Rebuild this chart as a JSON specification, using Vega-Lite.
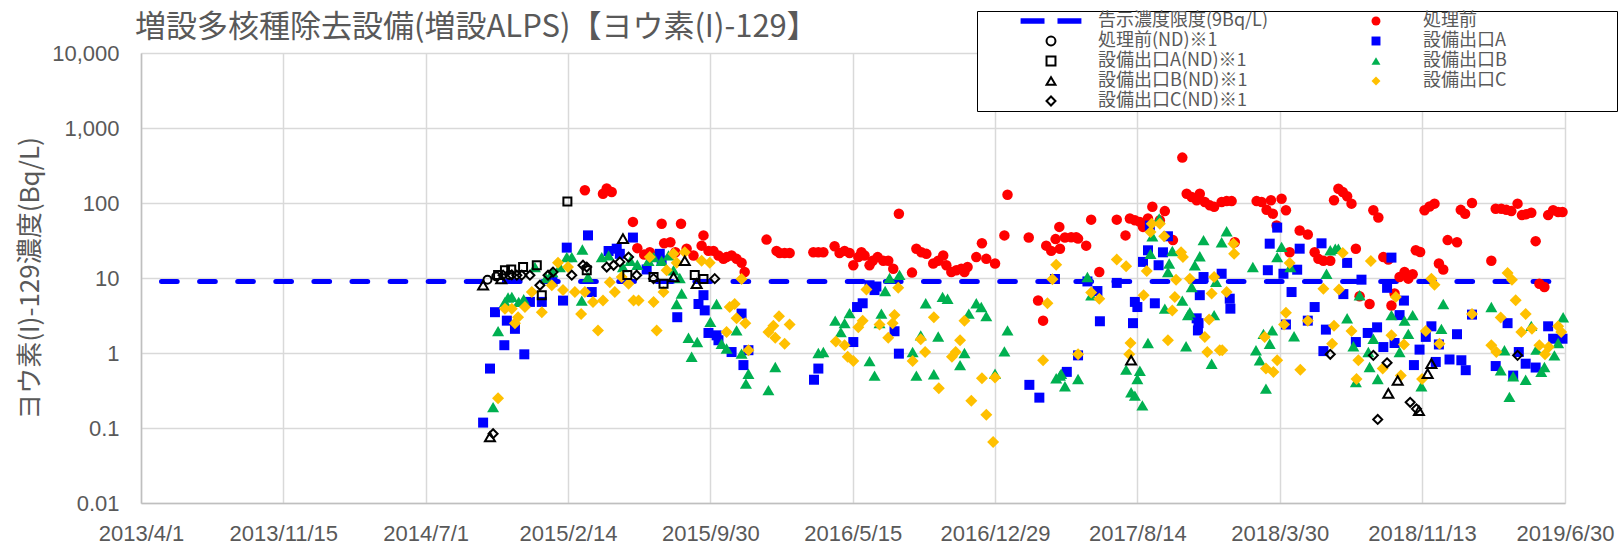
{
  "$schema": "https://vega.github.io/schema/vega-lite/v6.json",
  "width": 1424,
  "height": 450,
  "autosize": {"type": "none"},
  "padding": {"left": 141, "top": 53, "right": 58, "bottom": 42},
  "background": "white",
  "title": {"text": "増設多核種除去設備(増設ALPS)【ヨウ素(I)-129】", "anchor": "start", "frame": "group", "font": "Noto Sans CJK JP", "fontSize": 31, "fontWeight": "normal", "color": "#595959", "dx": -6, "offset": -33},
  "config": {
    "view": {"stroke": null},
    "axis": {"labelFont": "Liberation Sans", "labelFontSize": 22, "labelColor": "#595959", "ticks": false, "gridColor": "#D9D9D9", "gridWidth": 1.5, "domainColor": "#BFBFBF", "domainWidth": 1.5, "titleFont": "Noto Sans CJK JP", "titleFontWeight": "normal", "titleColor": "#595959", "labelOverlap": false, "labelFlush": false},
    "legend": {"orient": "none", "legendX": 836, "legendY": -42, "columns": 2, "gridAlign": "all", "padding": 1, "rowPadding": 2, "columnPadding": 35, "symbolOffset": 64, "labelOffset": 38, "labelFont": "Noto Sans CJK JP", "labelFontSize": 18, "labelColor": "#595959", "labelLimit": 500, "symbolSize": 80, "symbolStrokeWidth": 2, "strokeColor": "#000000", "fillColor": "#FFFFFF", "titleOrient": "right", "titlePadding": 109, "titleFontSize": 11, "titleColor": "#FFFFFF"}
  },
  "datasets": {
    "limit": [
      {"date": "2013-04-01", "value": 9, "series": "告示濃度限度(9Bq/L)"},
      {"date": "2019-06-30", "value": 9, "series": "告示濃度限度(9Bq/L)"}
    ],
    "obs": [
      {"date":"2015-03-13","value":148,"series":"処理前"},
      {"date":"2015-04-11","value":133,"series":"処理前"},
      {"date":"2015-04-17","value":156,"series":"処理前"},
      {"date":"2015-04-25","value":140,"series":"処理前"},
      {"date":"2015-05-29","value":56,"series":"処理前"},
      {"date":"2015-06-05","value":25,"series":"処理前"},
      {"date":"2015-06-16","value":20.5,"series":"処理前"},
      {"date":"2015-06-25","value":22,"series":"処理前"},
      {"date":"2015-07-14","value":53,"series":"処理前"},
      {"date":"2015-07-18","value":29,"series":"処理前"},
      {"date":"2015-07-28","value":30,"series":"処理前"},
      {"date":"2015-08-05","value":22,"series":"処理前"},
      {"date":"2015-08-14","value":53,"series":"処理前"},
      {"date":"2015-08-23","value":24.6,"series":"処理前"},
      {"date":"2015-09-03","value":20,"series":"処理前"},
      {"date":"2015-09-16","value":27,"series":"処理前"},
      {"date":"2015-09-19","value":37,"series":"処理前"},
      {"date":"2015-09-27","value":23,"series":"処理前"},
      {"date":"2015-10-05","value":23,"series":"処理前"},
      {"date":"2015-10-13","value":20,"series":"処理前"},
      {"date":"2015-10-21","value":18,"series":"処理前"},
      {"date":"2015-10-26","value":19,"series":"処理前"},
      {"date":"2015-11-03","value":20,"series":"処理前"},
      {"date":"2015-11-11","value":18,"series":"処理前"},
      {"date":"2015-11-19","value":16,"series":"処理前"},
      {"date":"2015-11-24","value":12,"series":"処理前"},
      {"date":"2015-12-29","value":32.5,"series":"処理前"},
      {"date":"2016-01-14","value":23,"series":"処理前"},
      {"date":"2016-01-19","value":21.5,"series":"処理前"},
      {"date":"2016-01-27","value":21.5,"series":"処理前"},
      {"date":"2016-02-04","value":21.5,"series":"処理前"},
      {"date":"2016-03-13","value":22,"series":"処理前"},
      {"date":"2016-03-21","value":22,"series":"処理前"},
      {"date":"2016-03-29","value":22,"series":"処理前"},
      {"date":"2016-04-16","value":26.5,"series":"処理前"},
      {"date":"2016-04-24","value":21.5,"series":"処理前"},
      {"date":"2016-05-02","value":23,"series":"処理前"},
      {"date":"2016-05-10","value":21.5,"series":"処理前"},
      {"date":"2016-05-16","value":14.8,"series":"処理前"},
      {"date":"2016-05-24","value":19,"series":"処理前"},
      {"date":"2016-05-29","value":22,"series":"処理前"},
      {"date":"2016-06-03","value":20,"series":"処理前"},
      {"date":"2016-06-11","value":14.8,"series":"処理前"},
      {"date":"2016-06-16","value":17,"series":"処理前"},
      {"date":"2016-06-24","value":19,"series":"処理前"},
      {"date":"2016-07-03","value":17,"series":"処理前"},
      {"date":"2016-07-11","value":17,"series":"処理前"},
      {"date":"2016-07-19","value":13.3,"series":"処理前"},
      {"date":"2016-07-28","value":72,"series":"処理前"},
      {"date":"2016-08-18","value":11.8,"series":"処理前"},
      {"date":"2016-08-25","value":24.6,"series":"処理前"},
      {"date":"2016-09-02","value":22,"series":"処理前"},
      {"date":"2016-09-10","value":21,"series":"処理前"},
      {"date":"2016-09-21","value":15.6,"series":"処理前"},
      {"date":"2016-09-29","value":17,"series":"処理前"},
      {"date":"2016-10-07","value":20,"series":"処理前"},
      {"date":"2016-10-12","value":14.8,"series":"処理前"},
      {"date":"2016-10-20","value":12,"series":"処理前"},
      {"date":"2016-10-28","value":12.7,"series":"処理前"},
      {"date":"2016-11-05","value":13.3,"series":"処理前"},
      {"date":"2016-11-10","value":12,"series":"処理前"},
      {"date":"2016-11-15","value":14,"series":"処理前"},
      {"date":"2016-11-29","value":19,"series":"処理前"},
      {"date":"2016-12-08","value":29,"series":"処理前"},
      {"date":"2016-12-15","value":18,"series":"処理前"},
      {"date":"2016-12-29","value":15.6,"series":"処理前"},
      {"date":"2017-01-13","value":37,"series":"処理前"},
      {"date":"2017-01-18","value":129,"series":"処理前"},
      {"date":"2017-02-21","value":34.6,"series":"処理前"},
      {"date":"2017-03-08","value":5,"series":"処理前"},
      {"date":"2017-03-16","value":2.7,"series":"処理前"},
      {"date":"2017-03-21","value":27,"series":"処理前"},
      {"date":"2017-03-29","value":23,"series":"処理前"},
      {"date":"2017-04-05","value":33,"series":"処理前"},
      {"date":"2017-04-11","value":48,"series":"処理前"},
      {"date":"2017-04-12","value":24.6,"series":"処理前"},
      {"date":"2017-04-20","value":34.6,"series":"処理前"},
      {"date":"2017-04-30","value":35,"series":"処理前"},
      {"date":"2017-05-08","value":35,"series":"処理前"},
      {"date":"2017-05-11","value":33.5,"series":"処理前"},
      {"date":"2017-05-24","value":27,"series":"処理前"},
      {"date":"2017-06-01","value":60,"series":"処理前"},
      {"date":"2017-06-14","value":12,"series":"処理前"},
      {"date":"2017-07-12","value":60,"series":"処理前"},
      {"date":"2017-07-26","value":37,"series":"処理前"},
      {"date":"2017-08-02","value":62,"series":"処理前"},
      {"date":"2017-08-10","value":59,"series":"処理前"},
      {"date":"2017-08-18","value":56,"series":"処理前"},
      {"date":"2017-08-23","value":48,"series":"処理前"},
      {"date":"2017-08-31","value":62,"series":"処理前"},
      {"date":"2017-09-07","value":89,"series":"処理前"},
      {"date":"2017-09-19","value":59,"series":"処理前"},
      {"date":"2017-09-27","value":78,"series":"処理前"},
      {"date":"2017-10-10","value":32,"series":"処理前"},
      {"date":"2017-10-25","value":403,"series":"処理前"},
      {"date":"2017-11-01","value":133,"series":"処理前"},
      {"date":"2017-11-09","value":120,"series":"処理前"},
      {"date":"2017-11-17","value":109,"series":"処理前"},
      {"date":"2017-11-22","value":133,"series":"処理前"},
      {"date":"2017-11-30","value":103,"series":"処理前"},
      {"date":"2017-12-08","value":93,"series":"処理前"},
      {"date":"2017-12-15","value":89,"series":"処理前"},
      {"date":"2017-12-27","value":103,"series":"処理前"},
      {"date":"2018-01-04","value":106,"series":"処理前"},
      {"date":"2018-01-12","value":106,"series":"処理前"},
      {"date":"2018-01-17","value":30,"series":"処理前"},
      {"date":"2018-02-21","value":106,"series":"処理前"},
      {"date":"2018-03-01","value":103,"series":"処理前"},
      {"date":"2018-03-09","value":81,"series":"処理前"},
      {"date":"2018-03-16","value":109,"series":"処理前"},
      {"date":"2018-03-19","value":72,"series":"処理前"},
      {"date":"2018-03-25","value":50,"series":"処理前"},
      {"date":"2018-04-02","value":114,"series":"処理前"},
      {"date":"2018-04-09","value":80,"series":"処理前"},
      {"date":"2018-04-15","value":22,"series":"処理前"},
      {"date":"2018-05-01","value":43,"series":"処理前"},
      {"date":"2018-05-14","value":38,"series":"処理前"},
      {"date":"2018-05-25","value":22,"series":"処理前"},
      {"date":"2018-05-31","value":18,"series":"処理前"},
      {"date":"2018-06-08","value":17,"series":"処理前"},
      {"date":"2018-06-19","value":17,"series":"処理前"},
      {"date":"2018-06-25","value":109,"series":"処理前"},
      {"date":"2018-07-02","value":155,"series":"処理前"},
      {"date":"2018-07-09","value":140,"series":"処理前"},
      {"date":"2018-07-16","value":123,"series":"処理前"},
      {"date":"2018-07-23","value":98,"series":"処理前"},
      {"date":"2018-07-30","value":24.6,"series":"処理前"},
      {"date":"2018-08-05","value":5.7,"series":"処理前"},
      {"date":"2018-08-21","value":4.5,"series":"処理前"},
      {"date":"2018-08-27","value":80,"series":"処理前"},
      {"date":"2018-09-04","value":64,"series":"処理前"},
      {"date":"2018-09-12","value":19,"series":"処理前"},
      {"date":"2018-09-20","value":17.6,"series":"処理前"},
      {"date":"2018-09-25","value":4.3,"series":"処理前"},
      {"date":"2018-09-30","value":6.2,"series":"処理前"},
      {"date":"2018-10-08","value":10.3,"series":"処理前"},
      {"date":"2018-10-16","value":12,"series":"処理前"},
      {"date":"2018-10-22","value":9.8,"series":"処理前"},
      {"date":"2018-10-29","value":11.2,"series":"処理前"},
      {"date":"2018-11-03","value":23.4,"series":"処理前"},
      {"date":"2018-11-10","value":22.2,"series":"処理前"},
      {"date":"2018-11-17","value":80,"series":"処理前"},
      {"date":"2018-11-25","value":90,"series":"処理前"},
      {"date":"2018-12-03","value":98,"series":"処理前"},
      {"date":"2018-12-10","value":15.6,"series":"処理前"},
      {"date":"2018-12-17","value":13,"series":"処理前"},
      {"date":"2018-12-24","value":32,"series":"処理前"},
      {"date":"2019-01-08","value":30,"series":"処理前"},
      {"date":"2019-01-14","value":81,"series":"処理前"},
      {"date":"2019-01-21","value":72,"series":"処理前"},
      {"date":"2019-02-01","value":100,"series":"処理前"},
      {"date":"2019-03-04","value":17,"series":"処理前"},
      {"date":"2019-03-11","value":84,"series":"処理前"},
      {"date":"2019-03-20","value":84,"series":"処理前"},
      {"date":"2019-03-28","value":81,"series":"処理前"},
      {"date":"2019-04-05","value":78,"series":"処理前"},
      {"date":"2019-04-15","value":98,"series":"処理前"},
      {"date":"2019-04-22","value":69,"series":"処理前"},
      {"date":"2019-04-29","value":71,"series":"処理前"},
      {"date":"2019-05-07","value":74,"series":"処理前"},
      {"date":"2019-05-14","value":31,"series":"処理前"},
      {"date":"2019-05-20","value":8.4,"series":"処理前"},
      {"date":"2019-05-28","value":7.6,"series":"処理前"},
      {"date":"2019-06-03","value":69,"series":"処理前"},
      {"date":"2019-06-11","value":80,"series":"処理前"},
      {"date":"2019-06-19","value":76,"series":"処理前"},
      {"date":"2019-06-26","value":76,"series":"処理前"},

      {"date":"2014-10-01","value":0.118,"series":"設備出口A"},
      {"date":"2014-10-12","value":0.62,"series":"設備出口A"},
      {"date":"2014-10-20","value":3.5,"series":"設備出口A"},
      {"date":"2014-11-04","value":1.27,"series":"設備出口A"},
      {"date":"2014-11-08","value":2.7,"series":"設備出口A"},
      {"date":"2014-11-21","value":2.1,"series":"設備出口A"},
      {"date":"2014-12-06","value":0.96,"series":"設備出口A"},
      {"date":"2014-12-15","value":4.8,"series":"設備出口A"},
      {"date":"2015-01-03","value":4.8,"series":"設備出口A"},
      {"date":"2015-01-20","value":9,"series":"設備出口A"},
      {"date":"2015-02-06","value":5.0,"series":"設備出口A"},
      {"date":"2015-02-12","value":25.4,"series":"設備出口A"},
      {"date":"2015-03-18","value":37,"series":"設備出口A"},
      {"date":"2015-03-24","value":6.5,"series":"設備出口A"},
      {"date":"2015-04-20","value":22.9,"series":"設備出口A"},
      {"date":"2015-05-03","value":24.6,"series":"設備出口A"},
      {"date":"2015-05-08","value":21,"series":"設備出口A"},
      {"date":"2015-05-29","value":34.6,"series":"設備出口A"},
      {"date":"2015-06-20","value":13,"series":"設備出口A"},
      {"date":"2015-07-11","value":21,"series":"設備出口A"},
      {"date":"2015-07-14","value":17,"series":"設備出口A"},
      {"date":"2015-08-08","value":3.0,"series":"設備出口A"},
      {"date":"2015-09-11","value":4.5,"series":"設備出口A"},
      {"date":"2015-09-19","value":5.9,"series":"設備出口A"},
      {"date":"2015-09-21","value":3.7,"series":"設備出口A"},
      {"date":"2015-09-27","value":1.85,"series":"設備出口A"},
      {"date":"2015-10-10","value":1.72,"series":"設備出口A"},
      {"date":"2015-10-13","value":1.48,"series":"設備出口A"},
      {"date":"2015-11-03","value":1.03,"series":"設備出口A"},
      {"date":"2015-11-19","value":3.35,"series":"設備出口A"},
      {"date":"2015-11-22","value":0.69,"series":"設備出口A"},
      {"date":"2015-11-30","value":1.09,"series":"設備出口A"},
      {"date":"2016-03-14","value":0.44,"series":"設備出口A"},
      {"date":"2016-03-21","value":0.62,"series":"設備出口A"},
      {"date":"2016-05-16","value":1.4,"series":"設備出口A"},
      {"date":"2016-05-22","value":4.1,"series":"設備出口A"},
      {"date":"2016-05-31","value":4.6,"series":"設備出口A"},
      {"date":"2016-06-11","value":8,"series":"設備出口A"},
      {"date":"2016-06-19","value":6.9,"series":"設備出口A"},
      {"date":"2016-06-22","value":7.7,"series":"設備出口A"},
      {"date":"2016-07-21","value":1.95,"series":"設備出口A"},
      {"date":"2016-07-28","value":0.98,"series":"設備出口A"},
      {"date":"2017-02-22","value":0.376,"series":"設備出口A"},
      {"date":"2017-03-10","value":0.254,"series":"設備出口A"},
      {"date":"2017-04-04","value":9.7,"series":"設備出口A"},
      {"date":"2017-04-23","value":0.56,"series":"設備出口A"},
      {"date":"2017-05-11","value":0.93,"series":"設備出口A"},
      {"date":"2017-05-26","value":9,"series":"設備出口A"},
      {"date":"2017-06-11","value":6.7,"series":"設備出口A"},
      {"date":"2017-06-15","value":2.65,"series":"設備出口A"},
      {"date":"2017-07-12","value":8.6,"series":"設備出口A"},
      {"date":"2017-08-07","value":2.5,"series":"設備出口A"},
      {"date":"2017-08-10","value":4.8,"series":"設備出口A"},
      {"date":"2017-08-14","value":4.1,"series":"設備出口A"},
      {"date":"2017-08-23","value":16.4,"series":"設備出口A"},
      {"date":"2017-08-31","value":23.4,"series":"設備出口A"},
      {"date":"2017-09-03","value":50,"series":"設備出口A"},
      {"date":"2017-09-11","value":4.6,"series":"設備出口A"},
      {"date":"2017-09-17","value":14.8,"series":"設備出口A"},
      {"date":"2017-09-24","value":22,"series":"設備出口A"},
      {"date":"2017-10-02","value":36,"series":"設備出口A"},
      {"date":"2017-11-17","value":2.9,"series":"設備出口A"},
      {"date":"2017-11-19","value":2.0,"series":"設備出口A"},
      {"date":"2017-11-20","value":2.5,"series":"設備出口A"},
      {"date":"2017-11-22","value":5.9,"series":"設備出口A"},
      {"date":"2017-11-28","value":10.3,"series":"設備出口A"},
      {"date":"2017-12-27","value":11.4,"series":"設備出口A"},
      {"date":"2018-01-09","value":5.3,"series":"設備出口A"},
      {"date":"2018-01-10","value":3.9,"series":"設備出口A"},
      {"date":"2018-03-11","value":12.7,"series":"設備出口A"},
      {"date":"2018-03-14","value":28.7,"series":"設備出口A"},
      {"date":"2018-03-26","value":47,"series":"設備出口A"},
      {"date":"2018-04-05","value":11.4,"series":"設備出口A"},
      {"date":"2018-04-09","value":2.4,"series":"設備出口A"},
      {"date":"2018-04-18","value":6.5,"series":"設備出口A"},
      {"date":"2018-04-27","value":12.9,"series":"設備出口A"},
      {"date":"2018-05-01","value":24.6,"series":"設備出口A"},
      {"date":"2018-05-14","value":2.7,"series":"設備出口A"},
      {"date":"2018-05-25","value":4.1,"series":"設備出口A"},
      {"date":"2018-06-05","value":29,"series":"設備出口A"},
      {"date":"2018-06-08","value":1.06,"series":"設備出口A"},
      {"date":"2018-06-12","value":2.05,"series":"設備出口A"},
      {"date":"2018-07-10","value":6.1,"series":"設備出口A"},
      {"date":"2018-07-16","value":15.9,"series":"設備出口A"},
      {"date":"2018-07-30","value":1.4,"series":"設備出口A"},
      {"date":"2018-08-08","value":9.5,"series":"設備出口A"},
      {"date":"2018-08-18","value":1.85,"series":"設備出口A"},
      {"date":"2018-09-02","value":2.2,"series":"設備出口A"},
      {"date":"2018-09-12","value":1.2,"series":"設備出口A"},
      {"date":"2018-09-18","value":7.4,"series":"設備出口A"},
      {"date":"2018-09-25","value":18.7,"series":"設備出口A"},
      {"date":"2018-09-30","value":1.36,"series":"設備出口A"},
      {"date":"2018-10-08","value":3.2,"series":"設備出口A"},
      {"date":"2018-10-15","value":5.0,"series":"設備出口A"},
      {"date":"2018-10-31","value":0.69,"series":"設備出口A"},
      {"date":"2018-11-09","value":1.11,"series":"設備出口A"},
      {"date":"2018-11-19","value":1.64,"series":"設備出口A"},
      {"date":"2018-11-28","value":2.27,"series":"設備出口A"},
      {"date":"2018-12-05","value":0.76,"series":"設備出口A"},
      {"date":"2018-12-10","value":1.3,"series":"設備出口A"},
      {"date":"2018-12-27","value":0.82,"series":"設備出口A"},
      {"date":"2019-01-08","value":1.78,"series":"設備出口A"},
      {"date":"2019-01-15","value":0.8,"series":"設備出口A"},
      {"date":"2019-01-22","value":0.59,"series":"設備出口A"},
      {"date":"2019-02-01","value":3.25,"series":"設備出口A"},
      {"date":"2019-03-11","value":0.67,"series":"設備出口A"},
      {"date":"2019-03-30","value":2.5,"series":"設備出口A"},
      {"date":"2019-04-08","value":0.5,"series":"設備出口A"},
      {"date":"2019-04-17","value":1.03,"series":"設備出口A"},
      {"date":"2019-04-28","value":0.72,"series":"設備出口A"},
      {"date":"2019-05-14","value":0.64,"series":"設備出口A"},
      {"date":"2019-06-03","value":2.27,"series":"設備出口A"},
      {"date":"2019-06-11","value":1.55,"series":"設備出口A"},
      {"date":"2019-06-26","value":1.55,"series":"設備出口A"},

      {"date":"2014-10-17","value":0.19,"series":"設備出口B"},
      {"date":"2014-10-25","value":1.96,"series":"設備出口B"},
      {"date":"2014-11-05","value":4.8,"series":"設備出口B"},
      {"date":"2014-11-10","value":5.5,"series":"設備出口B"},
      {"date":"2014-11-16","value":5.6,"series":"設備出口B"},
      {"date":"2014-11-27","value":4.8,"series":"設備出口B"},
      {"date":"2014-12-05","value":5.2,"series":"設備出口B"},
      {"date":"2014-12-23","value":14,"series":"設備出口B"},
      {"date":"2015-01-10","value":10,"series":"設備出口B"},
      {"date":"2015-01-20","value":12,"series":"設備出口B"},
      {"date":"2015-02-01","value":14,"series":"設備出口B"},
      {"date":"2015-02-12","value":19,"series":"設備出口B"},
      {"date":"2015-02-20","value":19,"series":"設備出口B"},
      {"date":"2015-03-08","value":5,"series":"設備出口B"},
      {"date":"2015-03-09","value":24,"series":"設備出口B"},
      {"date":"2015-03-18","value":10.3,"series":"設備出口B"},
      {"date":"2015-04-09","value":19,"series":"設備出口B"},
      {"date":"2015-04-20","value":20,"series":"設備出口B"},
      {"date":"2015-05-13","value":14,"series":"設備出口B"},
      {"date":"2015-05-25","value":17,"series":"設備出口B"},
      {"date":"2015-06-05","value":15,"series":"設備出口B"},
      {"date":"2015-06-23","value":17,"series":"設備出口B"},
      {"date":"2015-07-01","value":19,"series":"設備出口B"},
      {"date":"2015-07-14","value":17,"series":"設備出口B"},
      {"date":"2015-07-25","value":20,"series":"設備出口B"},
      {"date":"2015-08-02","value":12.7,"series":"設備出口B"},
      {"date":"2015-08-07","value":4.5,"series":"設備出口B"},
      {"date":"2015-08-12","value":10,"series":"設備出口B"},
      {"date":"2015-08-15","value":6.2,"series":"設備出口B"},
      {"date":"2015-08-26","value":1.6,"series":"設備出口B"},
      {"date":"2015-08-31","value":0.89,"series":"設備出口B"},
      {"date":"2015-09-09","value":1.4,"series":"設備出口B"},
      {"date":"2015-09-30","value":2.6,"series":"設備出口B"},
      {"date":"2015-10-10","value":4.5,"series":"設備出口B"},
      {"date":"2015-10-18","value":1.33,"series":"設備出口B"},
      {"date":"2015-10-26","value":1.15,"series":"設備出口B"},
      {"date":"2015-11-11","value":2.0,"series":"設備出口B"},
      {"date":"2015-11-19","value":0.98,"series":"設備出口B"},
      {"date":"2015-11-26","value":0.39,"series":"設備出口B"},
      {"date":"2015-11-30","value":0.53,"series":"設備出口B"},
      {"date":"2016-01-01","value":0.32,"series":"設備出口B"},
      {"date":"2016-01-12","value":0.65,"series":"設備出口B"},
      {"date":"2016-03-21","value":1.0,"series":"設備出口B"},
      {"date":"2016-03-29","value":1.03,"series":"設備出口B"},
      {"date":"2016-04-17","value":2.7,"series":"設備出口B"},
      {"date":"2016-04-26","value":1.9,"series":"設備出口B"},
      {"date":"2016-05-02","value":2.5,"series":"設備出口B"},
      {"date":"2016-05-10","value":3.4,"series":"設備出口B"},
      {"date":"2016-06-11","value":0.78,"series":"設備出口B"},
      {"date":"2016-06-19","value":0.5,"series":"設備出口B"},
      {"date":"2016-06-27","value":2.5,"series":"設備出口B"},
      {"date":"2016-06-30","value":3.35,"series":"設備出口B"},
      {"date":"2016-07-06","value":6.7,"series":"設備出口B"},
      {"date":"2016-07-13","value":10,"series":"設備出口B"},
      {"date":"2016-07-29","value":11,"series":"設備出口B"},
      {"date":"2016-08-19","value":1.03,"series":"設備出口B"},
      {"date":"2016-08-25","value":0.5,"series":"設備出口B"},
      {"date":"2016-09-01","value":1.72,"series":"設備出口B"},
      {"date":"2016-09-09","value":4.6,"series":"設備出口B"},
      {"date":"2016-09-22","value":0.52,"series":"設備出口B"},
      {"date":"2016-09-29","value":1.66,"series":"設備出口B"},
      {"date":"2016-10-06","value":5.6,"series":"設備出口B"},
      {"date":"2016-10-14","value":5.3,"series":"設備出口B"},
      {"date":"2016-11-03","value":0.69,"series":"設備出口B"},
      {"date":"2016-11-10","value":1.0,"series":"設備出口B"},
      {"date":"2016-11-17","value":3.35,"series":"設備出口B"},
      {"date":"2016-11-29","value":4.6,"series":"設備出口B"},
      {"date":"2016-12-07","value":4.1,"series":"設備出口B"},
      {"date":"2016-12-15","value":3.1,"series":"設備出口B"},
      {"date":"2016-12-29","value":0.53,"series":"設備出口B"},
      {"date":"2017-01-13","value":1.05,"series":"設備出口B"},
      {"date":"2017-01-18","value":2.0,"series":"設備出口B"},
      {"date":"2017-04-06","value":0.46,"series":"設備出口B"},
      {"date":"2017-04-12","value":0.5,"series":"設備出口B"},
      {"date":"2017-04-14","value":0.53,"series":"設備出口B"},
      {"date":"2017-04-20","value":0.36,"series":"設備出口B"},
      {"date":"2017-05-11","value":0.45,"series":"設備出口B"},
      {"date":"2017-05-26","value":10.3,"series":"設備出口B"},
      {"date":"2017-06-01","value":5.9,"series":"設備出口B"},
      {"date":"2017-07-27","value":0.6,"series":"設備出口B"},
      {"date":"2017-08-04","value":0.3,"series":"設備出口B"},
      {"date":"2017-08-10","value":0.27,"series":"設備出口B"},
      {"date":"2017-08-14","value":0.45,"series":"設備出口B"},
      {"date":"2017-08-18","value":0.58,"series":"設備出口B"},
      {"date":"2017-08-22","value":0.2,"series":"設備出口B"},
      {"date":"2017-08-31","value":1.36,"series":"設備出口B"},
      {"date":"2017-09-04","value":21,"series":"設備出口B"},
      {"date":"2017-09-07","value":36,"series":"設備出口B"},
      {"date":"2017-09-18","value":62,"series":"設備出口B"},
      {"date":"2017-09-27","value":3.9,"series":"設備出口B"},
      {"date":"2017-10-02","value":12,"series":"設備出口B"},
      {"date":"2017-10-04","value":15.6,"series":"設備出口B"},
      {"date":"2017-10-09","value":22.9,"series":"設備出口B"},
      {"date":"2017-10-25","value":5.0,"series":"設備出口B"},
      {"date":"2017-10-31","value":1.23,"series":"設備出口B"},
      {"date":"2017-11-03","value":3.2,"series":"設備出口B"},
      {"date":"2017-11-06","value":3.5,"series":"設備出口B"},
      {"date":"2017-11-09","value":7.6,"series":"設備出口B"},
      {"date":"2017-11-14","value":14.8,"series":"設備出口B"},
      {"date":"2017-11-22","value":19.5,"series":"設備出口B"},
      {"date":"2017-11-28","value":32,"series":"設備出口B"},
      {"date":"2017-12-11","value":0.72,"series":"設備出口B"},
      {"date":"2017-12-15","value":3.2,"series":"設備出口B"},
      {"date":"2017-12-18","value":8.9,"series":"設備出口B"},
      {"date":"2017-12-27","value":30,"series":"設備出口B"},
      {"date":"2018-01-04","value":42,"series":"設備出口B"},
      {"date":"2018-02-15","value":14,"series":"設備出口B"},
      {"date":"2018-02-20","value":1.09,"series":"設備出口B"},
      {"date":"2018-02-26","value":0.8,"series":"設備出口B"},
      {"date":"2018-03-04","value":1.8,"series":"設備出口B"},
      {"date":"2018-03-08","value":0.335,"series":"設備出口B"},
      {"date":"2018-03-14","value":1.33,"series":"設備出口B"},
      {"date":"2018-03-18","value":2.0,"series":"設備出口B"},
      {"date":"2018-03-26","value":19,"series":"設備出口B"},
      {"date":"2018-04-02","value":26,"series":"設備出口B"},
      {"date":"2018-04-16","value":14,"series":"設備出口B"},
      {"date":"2018-04-22","value":1.67,"series":"設備出口B"},
      {"date":"2018-06-13","value":11.4,"series":"設備出口B"},
      {"date":"2018-06-19","value":23.4,"series":"設備出口B"},
      {"date":"2018-06-27","value":24.6,"series":"設備出口B"},
      {"date":"2018-07-02","value":24.6,"series":"設備出口B"},
      {"date":"2018-07-16","value":2.9,"series":"設備出口B"},
      {"date":"2018-07-26","value":1.23,"series":"設備出口B"},
      {"date":"2018-07-30","value":0.41,"series":"設備出口B"},
      {"date":"2018-08-05","value":5.9,"series":"設備出口B"},
      {"date":"2018-08-19","value":1.03,"series":"設備出口B"},
      {"date":"2018-08-21","value":0.65,"series":"設備出口B"},
      {"date":"2018-08-27","value":1.55,"series":"設備出口B"},
      {"date":"2018-09-03","value":0.45,"series":"設備出口B"},
      {"date":"2018-09-25","value":3.2,"series":"設備出口B"},
      {"date":"2018-10-08","value":1.03,"series":"設備出口B"},
      {"date":"2018-10-16","value":2.7,"series":"設備出口B"},
      {"date":"2018-10-22","value":1.8,"series":"設備出口B"},
      {"date":"2018-10-29","value":3.2,"series":"設備出口B"},
      {"date":"2018-11-12","value":0.36,"series":"設備出口B"},
      {"date":"2018-12-14","value":2.1,"series":"設備出口B"},
      {"date":"2018-12-17","value":4.5,"series":"設備出口B"},
      {"date":"2019-03-04","value":4.1,"series":"設備出口B"},
      {"date":"2019-03-19","value":0.59,"series":"設備出口B"},
      {"date":"2019-03-25","value":1.09,"series":"設備出口B"},
      {"date":"2019-04-02","value":0.26,"series":"設備出口B"},
      {"date":"2019-04-08","value":0.49,"series":"設備出口B"},
      {"date":"2019-04-28","value":0.44,"series":"設備出口B"},
      {"date":"2019-05-07","value":2.3,"series":"設備出口B"},
      {"date":"2019-05-15","value":1.11,"series":"設備出口B"},
      {"date":"2019-05-23","value":0.56,"series":"設備出口B"},
      {"date":"2019-05-28","value":0.65,"series":"設備出口B"},
      {"date":"2019-06-13","value":0.93,"series":"設備出口B"},
      {"date":"2019-06-19","value":1.36,"series":"設備出口B"},
      {"date":"2019-06-27","value":3.0,"series":"設備出口B"},

      {"date":"2014-10-25","value":0.25,"series":"設備出口C"},
      {"date":"2014-11-05","value":3.9,"series":"設備出口C"},
      {"date":"2014-11-16","value":3.9,"series":"設備出口C"},
      {"date":"2014-11-21","value":2.5,"series":"設備出口C"},
      {"date":"2014-11-26","value":3.0,"series":"設備出口C"},
      {"date":"2014-12-07","value":4.1,"series":"設備出口C"},
      {"date":"2014-12-18","value":6.5,"series":"設備出口C"},
      {"date":"2015-01-03","value":3.5,"series":"設備出口C"},
      {"date":"2015-01-19","value":8,"series":"設備出口C"},
      {"date":"2015-01-29","value":16,"series":"設備出口C"},
      {"date":"2015-02-06","value":6.9,"series":"設備出口C"},
      {"date":"2015-02-14","value":14,"series":"設備出口C"},
      {"date":"2015-02-25","value":6.5,"series":"設備出口C"},
      {"date":"2015-03-07","value":3.3,"series":"設備出口C"},
      {"date":"2015-03-13","value":6.5,"series":"設備出口C"},
      {"date":"2015-03-26","value":4.8,"series":"設備出口C"},
      {"date":"2015-04-03","value":2.0,"series":"設備出口C"},
      {"date":"2015-04-11","value":5,"series":"設備出口C"},
      {"date":"2015-04-22","value":8.8,"series":"設備出口C"},
      {"date":"2015-04-30","value":6.5,"series":"設備出口C"},
      {"date":"2015-05-11","value":10.3,"series":"設備出口C"},
      {"date":"2015-05-22","value":8.4,"series":"設備出口C"},
      {"date":"2015-05-30","value":5,"series":"設備出口C"},
      {"date":"2015-06-07","value":5,"series":"設備出口C"},
      {"date":"2015-06-25","value":19,"series":"設備出口C"},
      {"date":"2015-07-01","value":4.8,"series":"設備出口C"},
      {"date":"2015-07-06","value":2.0,"series":"設備出口C"},
      {"date":"2015-07-17","value":6.5,"series":"設備出口C"},
      {"date":"2015-07-22","value":12.7,"series":"設備出口C"},
      {"date":"2015-08-02","value":21,"series":"設備出口C"},
      {"date":"2015-08-07","value":16,"series":"設備出口C"},
      {"date":"2015-08-20","value":22,"series":"設備出口C"},
      {"date":"2015-09-16","value":17,"series":"設備出口C"},
      {"date":"2015-09-29","value":16,"series":"設備出口C"},
      {"date":"2015-10-26","value":1.9,"series":"設備出口C"},
      {"date":"2015-10-31","value":4.1,"series":"設備出口C"},
      {"date":"2015-11-08","value":4.5,"series":"設備出口C"},
      {"date":"2015-11-11","value":2.9,"series":"設備出口C"},
      {"date":"2015-11-19","value":9.7,"series":"設備出口C"},
      {"date":"2015-11-25","value":2.5,"series":"設備出口C"},
      {"date":"2015-11-30","value":1.09,"series":"設備出口C"},
      {"date":"2016-01-01","value":1.9,"series":"設備出口C"},
      {"date":"2016-01-09","value":2.3,"series":"設備出口C"},
      {"date":"2016-01-12","value":1.6,"series":"設備出口C"},
      {"date":"2016-01-18","value":3.1,"series":"設備出口C"},
      {"date":"2016-01-27","value":1.33,"series":"設備出口C"},
      {"date":"2016-02-04","value":2.4,"series":"設備出口C"},
      {"date":"2016-04-18","value":1.42,"series":"設備出口C"},
      {"date":"2016-05-02","value":1.27,"series":"設備出口C"},
      {"date":"2016-05-07","value":0.89,"series":"設備出口C"},
      {"date":"2016-05-16","value":0.78,"series":"設備出口C"},
      {"date":"2016-05-24","value":2.2,"series":"設備出口C"},
      {"date":"2016-05-31","value":2.7,"series":"設備出口C"},
      {"date":"2016-06-06","value":7,"series":"設備出口C"},
      {"date":"2016-06-27","value":2.4,"series":"設備出口C"},
      {"date":"2016-07-11","value":1.6,"series":"設備出口C"},
      {"date":"2016-07-18","value":2.5,"series":"設備出口C"},
      {"date":"2016-07-21","value":3.2,"series":"設備出口C"},
      {"date":"2016-07-27","value":7.4,"series":"設備出口C"},
      {"date":"2016-08-19","value":0.78,"series":"設備出口C"},
      {"date":"2016-09-01","value":1.53,"series":"設備出口C"},
      {"date":"2016-09-08","value":1.03,"series":"設備出口C"},
      {"date":"2016-09-22","value":3.0,"series":"設備出口C"},
      {"date":"2016-09-30","value":0.34,"series":"設備出口C"},
      {"date":"2016-10-21","value":0.89,"series":"設備出口C"},
      {"date":"2016-10-27","value":1.03,"series":"設備出口C"},
      {"date":"2016-11-03","value":1.48,"series":"設備出口C"},
      {"date":"2016-11-10","value":2.7,"series":"設備出口C"},
      {"date":"2016-11-21","value":0.23,"series":"設備出口C"},
      {"date":"2016-12-08","value":0.46,"series":"設備出口C"},
      {"date":"2016-12-15","value":0.15,"series":"設備出口C"},
      {"date":"2016-12-26","value":0.065,"series":"設備出口C"},
      {"date":"2016-12-29","value":0.47,"series":"設備出口C"},
      {"date":"2017-03-16","value":0.8,"series":"設備出口C"},
      {"date":"2017-03-23","value":4.6,"series":"設備出口C"},
      {"date":"2017-03-31","value":9.6,"series":"設備出口C"},
      {"date":"2017-04-06","value":15,"series":"設備出口C"},
      {"date":"2017-05-11","value":0.96,"series":"設備出口C"},
      {"date":"2017-06-01","value":6.4,"series":"設備出口C"},
      {"date":"2017-06-14","value":5.3,"series":"設備出口C"},
      {"date":"2017-07-12","value":17.6,"series":"設備出口C"},
      {"date":"2017-07-27","value":14.3,"series":"設備出口C"},
      {"date":"2017-08-01","value":0.96,"series":"設備出口C"},
      {"date":"2017-08-03","value":1.36,"series":"設備出口C"},
      {"date":"2017-08-24","value":5.9,"series":"設備出口C"},
      {"date":"2017-08-29","value":12.4,"series":"設備出口C"},
      {"date":"2017-09-04","value":41,"series":"設備出口C"},
      {"date":"2017-09-06","value":53,"series":"設備出口C"},
      {"date":"2017-09-19","value":53,"series":"設備出口C"},
      {"date":"2017-09-26","value":36,"series":"設備出口C"},
      {"date":"2017-10-02","value":1.48,"series":"設備出口C"},
      {"date":"2017-10-09","value":3.7,"series":"設備出口C"},
      {"date":"2017-10-13","value":5.6,"series":"設備出口C"},
      {"date":"2017-10-15","value":9.5,"series":"設備出口C"},
      {"date":"2017-10-23","value":22,"series":"設備出口C"},
      {"date":"2017-10-26","value":19,"series":"設備出口C"},
      {"date":"2017-11-06","value":9.8,"series":"設備出口C"},
      {"date":"2017-11-30","value":1.64,"series":"設備出口C"},
      {"date":"2017-12-04","value":1.03,"series":"設備出口C"},
      {"date":"2017-12-07","value":2.8,"series":"設備出口C"},
      {"date":"2017-12-11","value":6.2,"series":"設備出口C"},
      {"date":"2017-12-15","value":10.3,"series":"設備出口C"},
      {"date":"2017-12-24","value":1.09,"series":"設備出口C"},
      {"date":"2017-12-28","value":1.09,"series":"設備出口C"},
      {"date":"2018-01-04","value":6.5,"series":"設備出口C"},
      {"date":"2018-01-15","value":28.7,"series":"設備出口C"},
      {"date":"2018-01-16","value":21,"series":"設備出口C"},
      {"date":"2018-03-06","value":1.64,"series":"設備出口C"},
      {"date":"2018-03-08","value":0.62,"series":"設備出口C"},
      {"date":"2018-03-20","value":0.56,"series":"設備出口C"},
      {"date":"2018-03-26","value":0.8,"series":"設備出口C"},
      {"date":"2018-04-06","value":2.4,"series":"設備出口C"},
      {"date":"2018-04-09","value":3.45,"series":"設備出口C"},
      {"date":"2018-04-15","value":15.9,"series":"設備出口C"},
      {"date":"2018-05-02","value":0.6,"series":"設備出口C"},
      {"date":"2018-05-14","value":2.7,"series":"設備出口C"},
      {"date":"2018-06-08","value":7.2,"series":"設備出口C"},
      {"date":"2018-06-22","value":1.33,"series":"設備出口C"},
      {"date":"2018-06-25","value":2.3,"series":"設備出口C"},
      {"date":"2018-07-03","value":7.0,"series":"設備出口C"},
      {"date":"2018-07-09","value":21.6,"series":"設備出口C"},
      {"date":"2018-07-23","value":1.97,"series":"設備出口C"},
      {"date":"2018-07-31","value":0.45,"series":"設備出口C"},
      {"date":"2018-08-03","value":0.8,"series":"設備出口C"},
      {"date":"2018-08-23","value":16.9,"series":"設備出口C"},
      {"date":"2018-09-11","value":0.62,"series":"設備出口C"},
      {"date":"2018-09-25","value":1.72,"series":"設備出口C"},
      {"date":"2018-10-02","value":5.6,"series":"設備出口C"},
      {"date":"2018-10-10","value":0.5,"series":"設備出口C"},
      {"date":"2018-10-15","value":1.3,"series":"設備出口C"},
      {"date":"2018-11-13","value":0.45,"series":"設備出口C"},
      {"date":"2018-11-19","value":1.97,"series":"設備出口C"},
      {"date":"2018-11-28","value":9.8,"series":"設備出口C"},
      {"date":"2018-12-03","value":8.1,"series":"設備出口C"},
      {"date":"2018-12-11","value":1.33,"series":"設備出口C"},
      {"date":"2019-02-01","value":3.3,"series":"設備出口C"},
      {"date":"2019-03-04","value":1.27,"series":"設備出口C"},
      {"date":"2019-03-12","value":1.03,"series":"設備出口C"},
      {"date":"2019-03-19","value":2.97,"series":"設備出口C"},
      {"date":"2019-03-30","value":11.7,"series":"設備出口C"},
      {"date":"2019-04-06","value":9.5,"series":"設備出口C"},
      {"date":"2019-04-12","value":5.05,"series":"設備出口C"},
      {"date":"2019-04-21","value":1.9,"series":"設備出口C"},
      {"date":"2019-04-28","value":3.3,"series":"設備出口C"},
      {"date":"2019-05-08","value":2.1,"series":"設備出口C"},
      {"date":"2019-05-20","value":1.27,"series":"設備出口C"},
      {"date":"2019-05-29","value":0.96,"series":"設備出口C"},
      {"date":"2019-06-04","value":1.2,"series":"設備出口C"},
      {"date":"2019-06-19","value":2.27,"series":"設備出口C"},
      {"date":"2019-06-24","value":1.9,"series":"設備出口C"},

      {"date":"2014-10-08","value":9.5,"series":"処理前(ND)※1"},
      {"date":"2014-10-22","value":10.5,"series":"処理前(ND)※1"},
      {"date":"2014-11-12","value":11,"series":"処理前(ND)※1"},

      {"date":"2014-10-25","value":11,"series":"設備出口A(ND)※1"},
      {"date":"2014-11-05","value":12.7,"series":"設備出口A(ND)※1"},
      {"date":"2014-11-15","value":13,"series":"設備出口A(ND)※1"},
      {"date":"2014-12-04","value":14,"series":"設備出口A(ND)※1"},
      {"date":"2014-12-26","value":14.8,"series":"設備出口A(ND)※1"},
      {"date":"2015-01-03","value":5.9,"series":"設備出口A(ND)※1"},
      {"date":"2015-02-13","value":105,"series":"設備出口A(ND)※1"},
      {"date":"2015-03-16","value":12.7,"series":"設備出口A(ND)※1"},
      {"date":"2015-05-20","value":11,"series":"設備出口A(ND)※1"},
      {"date":"2015-07-01","value":10.3,"series":"設備出口A(ND)※1"},
      {"date":"2015-07-17","value":8.4,"series":"設備出口A(ND)※1"},
      {"date":"2015-09-05","value":11,"series":"設備出口A(ND)※1"},
      {"date":"2015-09-19","value":9.7,"series":"設備出口A(ND)※1"},

      {"date":"2014-10-01","value":8,"series":"設備出口B(ND)※1"},
      {"date":"2014-10-12","value":0.076,"series":"設備出口B(ND)※1"},
      {"date":"2014-10-30","value":9.7,"series":"設備出口B(ND)※1"},
      {"date":"2015-05-13","value":33.5,"series":"設備出口B(ND)※1"},
      {"date":"2015-08-02","value":10.3,"series":"設備出口B(ND)※1"},
      {"date":"2015-08-20","value":17,"series":"設備出口B(ND)※1"},
      {"date":"2015-09-08","value":8.4,"series":"設備出口B(ND)※1"},
      {"date":"2017-08-04","value":0.8,"series":"設備出口B(ND)※1"},
      {"date":"2018-09-20","value":0.29,"series":"設備出口B(ND)※1"},
      {"date":"2018-10-05","value":0.43,"series":"設備出口B(ND)※1"},
      {"date":"2018-11-08","value":0.17,"series":"設備出口B(ND)※1"},
      {"date":"2018-11-22","value":0.53,"series":"設備出口B(ND)※1"},
      {"date":"2018-11-28","value":0.72,"series":"設備出口B(ND)※1"},

      {"date":"2014-10-17","value":0.084,"series":"設備出口C(ND)※1"},
      {"date":"2014-11-02","value":10.9,"series":"設備出口C(ND)※1"},
      {"date":"2014-11-16","value":11,"series":"設備出口C(ND)※1"},
      {"date":"2014-11-24","value":10.9,"series":"設備出口C(ND)※1"},
      {"date":"2014-12-02","value":10.9,"series":"設備出口C(ND)※1"},
      {"date":"2014-12-15","value":10.9,"series":"設備出口C(ND)※1"},
      {"date":"2014-12-31","value":8,"series":"設備出口C(ND)※1"},
      {"date":"2015-01-13","value":10.9,"series":"設備出口C(ND)※1"},
      {"date":"2015-01-21","value":12,"series":"設備出口C(ND)※1"},
      {"date":"2015-02-20","value":10.9,"series":"設備出口C(ND)※1"},
      {"date":"2015-03-10","value":14.8,"series":"設備出口C(ND)※1"},
      {"date":"2015-03-16","value":14,"series":"設備出口C(ND)※1"},
      {"date":"2015-04-17","value":14,"series":"設備出口C(ND)※1"},
      {"date":"2015-04-28","value":14.8,"series":"設備出口C(ND)※1"},
      {"date":"2015-05-08","value":16.4,"series":"設備出口C(ND)※1"},
      {"date":"2015-05-22","value":19,"series":"設備出口C(ND)※1"},
      {"date":"2015-06-04","value":10.9,"series":"設備出口C(ND)※1"},
      {"date":"2015-07-01","value":9.8,"series":"設備出口C(ND)※1"},
      {"date":"2015-10-07","value":9.8,"series":"設備出口C(ND)※1"},
      {"date":"2018-06-19","value":0.96,"series":"設備出口C(ND)※1"},
      {"date":"2018-08-27","value":0.93,"series":"設備出口C(ND)※1"},
      {"date":"2018-09-03","value":0.13,"series":"設備出口C(ND)※1"},
      {"date":"2018-09-18","value":0.74,"series":"設備出口C(ND)※1"},
      {"date":"2018-10-25","value":0.22,"series":"設備出口C(ND)※1"},
      {"date":"2018-11-04","value":0.18,"series":"設備出口C(ND)※1"},
      {"date":"2019-04-15","value":0.93,"series":"設備出口C(ND)※1"}
    ]
  },
  "encoding": {
    "x": {
      "field": "date", "type": "temporal",
      "scale": {"type": "utc", "domain": [{"year": 2013, "month": 4, "date": 1, "utc": true}, {"year": 2019, "month": 6, "date": 30, "utc": true}]},
      "axis": {
        "title": null, "format": "%Y/%-m/%-d", "labelPadding": 20, "labelAngle": 0,
        "values": [
          {"year": 2013, "month": 4, "date": 1, "utc": true},
          {"year": 2013, "month": 11, "date": 15, "utc": true},
          {"year": 2014, "month": 7, "date": 1, "utc": true},
          {"year": 2015, "month": 2, "date": 14, "utc": true},
          {"year": 2015, "month": 9, "date": 30, "utc": true},
          {"year": 2016, "month": 5, "date": 15, "utc": true},
          {"year": 2016, "month": 12, "date": 29, "utc": true},
          {"year": 2017, "month": 8, "date": 14, "utc": true},
          {"year": 2018, "month": 3, "date": 30, "utc": true},
          {"year": 2018, "month": 11, "date": 13, "utc": true},
          {"year": 2019, "month": 6, "date": 30, "utc": true}
        ]
      }
    },
    "y": {
      "field": "value", "type": "quantitative",
      "scale": {"type": "log", "domain": [0.01, 10000], "nice": false},
      "axis": {"title": "ヨウ素(I)-129濃度(Bq/L)", "titleFontSize": 26, "titlePadding": 8, "values": [0.01, 0.1, 1, 10, 100, 1000, 10000], "format": ",~g", "labelPadding": 22}
    }
  },
  "layer": [
    {
      "data": {"name": "limit"},
      "mark": {"type": "line", "color": "#0000FF", "strokeWidth": 5, "strokeDash": [15.7, 22.4], "strokeDashOffset": 17.6, "strokeCap": "round"},
      "encoding": {}
    },
    {
      "data": {"name": "obs"},
      "mark": {"type": "point", "opacity": 1, "strokeWidth": 2},
      "encoding": {
        "fill": {
          "field": "series", "type": "nominal",
          "scale": {"domain": ["告示濃度限度(9Bq/L)", "処理前(ND)※1", "設備出口A(ND)※1", "設備出口B(ND)※1", "設備出口C(ND)※1", "処理前", "設備出口A", "設備出口B", "設備出口C"],
                    "range": ["#0000FF", "transparent", "transparent", "transparent", "transparent", "#FF0000", "#0000FF", "#00B050", "#FFC000"]},
          "legend": {"title": " ", "orient": "none", "legendX": 836, "legendY": -42, "columns": 2, "gridAlign": "all", "titleOrient": "right", "titlePadding": 109, "encode": {"legend": {"update": {"strokeWidth": {"value": 2}}}}}
        },
        "stroke": {
          "field": "series", "type": "nominal",
          "scale": {"domain": ["告示濃度限度(9Bq/L)", "処理前(ND)※1", "設備出口A(ND)※1", "設備出口B(ND)※1", "設備出口C(ND)※1", "処理前", "設備出口A", "設備出口B", "設備出口C"],
                    "range": ["transparent", "#000000", "#000000", "#000000", "#000000", "transparent", "transparent", "transparent", "transparent"]},
          "legend": {"title": " ", "orient": "none", "legendX": 836, "legendY": -42, "columns": 2, "gridAlign": "all", "titleOrient": "right", "titlePadding": 109, "encode": {"legend": {"update": {"strokeWidth": {"value": 2}}}}}
        },
        "shape": {
          "field": "series", "type": "nominal",
          "scale": {"domain": ["告示濃度限度(9Bq/L)", "処理前(ND)※1", "設備出口A(ND)※1", "設備出口B(ND)※1", "設備出口C(ND)※1", "処理前", "設備出口A", "設備出口B", "設備出口C"],
                    "range": ["M-6.8,-0.6L-1.45,-0.6L-1.45,0.6L-6.8,0.6ZM1.45,-0.6L6.8,-0.6L6.8,0.6L1.45,0.6Z", "circle", "square", "triangle-up", "diamond", "circle", "square", "triangle-up", "diamond"]},
          "legend": {"title": " ", "orient": "none", "legendX": 836, "legendY": -42, "columns": 2, "gridAlign": "all", "titleOrient": "right", "titlePadding": 109, "encode": {"legend": {"update": {"strokeWidth": {"value": 2}}}}}
        },
        "size": {
          "field": "series", "type": "nominal",
          "scale": {"type": "ordinal", "domain": ["処理前", "設備出口A", "設備出口B", "設備出口C", "処理前(ND)※1", "設備出口A(ND)※1", "設備出口B(ND)※1", "設備出口C(ND)※1", "告示濃度限度(9Bq/L)"],
                    "range": [110, 100, 144, 144, 64, 64, 100, 81, 10]},
          "legend": null
        }
      }
    }
  ]
}
